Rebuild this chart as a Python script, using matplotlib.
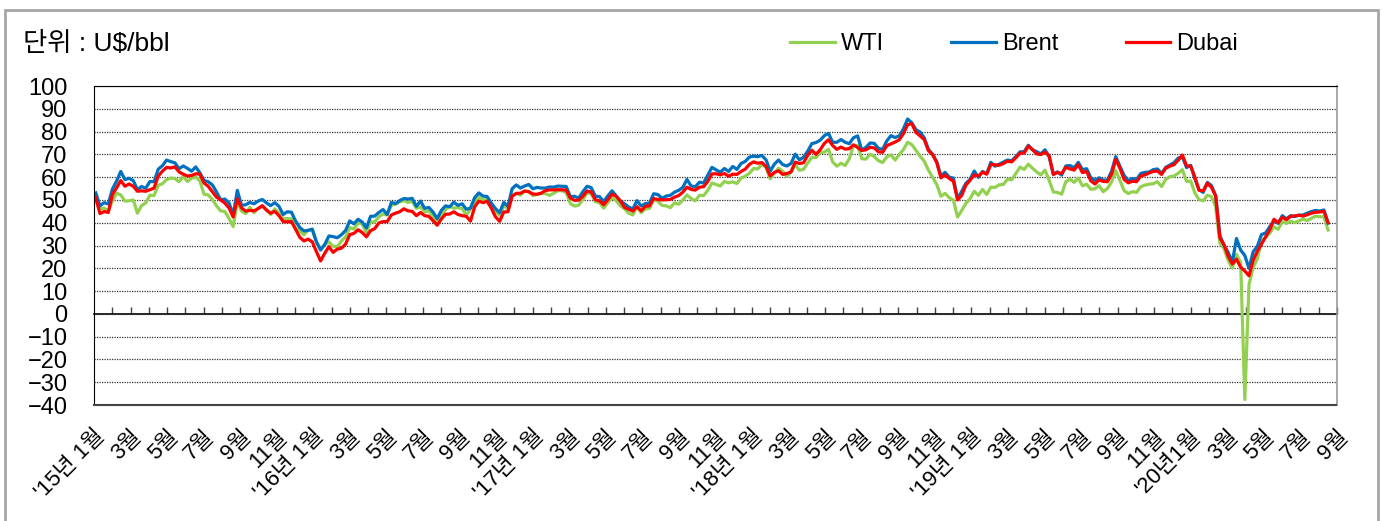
import numpy as np
import pandas as pd
import matplotlib
matplotlib.use("Agg")
import matplotlib.pyplot as plt
import matplotlib.dates as mdates
from matplotlib.patches import Rectangle

plt.rcParams['font.family'] = ['Liberation Sans', 'Noto Sans CJK KR']

# weekly (Monday) prices, U$/bbl, Jan 2015 - Sep 2020
brent = [
    53.1, 47.4, 48.8, 48.2,  54.8, 58.3, 62.5, 58.9,  59.5, 58.5, 54.5, 55.9, 55.1,
    58.1, 58.0, 63.5, 65.0,  67.5, 66.8, 66.3, 63.7,  64.9, 63.9, 62.6, 64.5, 61.9,
    58.5, 58.0, 56.6, 53.5,  50.0, 50.4, 48.7, 43.5, 54.2,  47.6, 47.9, 48.9, 48.3,
    49.5, 50.2, 48.7, 47.5,  48.8, 47.2, 43.6, 44.8, 44.6,  40.7, 37.9, 36.4, 36.6,
    # 2016
    37.2, 31.6, 28.0, 30.5,  34.2, 33.9, 33.4, 34.7, 36.6,  40.8, 39.5, 41.5, 40.3,
    37.7, 42.8, 42.9, 44.5,  45.8, 43.6, 48.9, 48.4, 49.7,  50.6, 50.4, 50.7, 47.2,
    49.5, 46.3, 46.7, 44.7,  41.8, 45.4, 47.4, 47.0, 49.0,  47.6, 48.3, 45.9, 46.4,
    51.0, 53.1, 51.7, 51.5, 48.6,  46.2, 44.4, 48.9, 47.2,  54.9, 56.6, 55.2, 56.1,
    # 2017
    56.8, 54.9, 55.5, 55.2, 55.2,  55.7, 55.6, 56.1, 56.0,  55.9, 51.4, 51.6, 50.8,
    53.6, 56.0, 55.4, 51.6,  51.5, 49.3, 51.8, 54.0, 51.8,  49.5, 48.3, 46.9, 46.0,
    49.7, 47.3, 48.4, 48.6, 52.7,  52.4, 50.7, 51.7, 52.0,  53.4, 54.2, 55.5, 59.0,
    56.1, 55.8, 57.8, 57.4, 60.9,  64.3, 63.2, 62.2, 63.8,  62.5, 64.7, 63.4, 66.0,
    # 2018
    66.9, 68.8, 69.2, 69.0, 69.5,  67.6, 62.6, 65.7, 67.5,  65.5, 64.9, 66.0, 70.1,
    67.6, 68.7, 71.4, 74.7, 75.2,  76.2, 78.2, 79.2, 75.3,  75.3, 76.5, 75.3, 74.7,
    77.3, 78.1, 71.8, 73.1, 75.0,  74.8, 72.6, 72.2, 75.9,  78.2, 77.4, 78.1, 81.2,
    85.5, 83.9, 80.8, 79.8, 77.3,  72.2, 70.1, 66.8, 60.5,  62.1, 60.0, 59.6, 50.5, 53.8,
    # 2019
    57.3, 59.0, 62.7, 59.9,  62.5, 61.5, 66.5, 64.8,  65.7, 66.6, 67.5, 67.2,
    69.0, 71.1, 71.2, 74.0, 72.0,  71.2, 70.2, 72.0, 69.0,  61.3, 62.3, 60.9, 64.9,
    65.1, 64.1, 66.5, 63.3, 63.7,  59.8, 58.6, 59.7, 58.7,  58.7, 62.6, 69.0, 64.8, 60.8,
    58.4, 59.4, 59.0, 61.6,  62.1, 62.2, 63.3, 63.6,  61.6, 64.3, 65.3, 66.4, 68.4,
    # 2020
    68.9, 64.2, 65.2, 59.3,  54.5, 53.3, 57.7, 56.3,  51.9, 34.4, 30.1, 27.0, 22.7,
    33.1, 28.0, 25.6, 20.0,  27.2, 29.6, 34.8, 35.5,  38.3, 40.8, 39.7, 43.1, 41.7,
    43.1, 42.7, 43.3, 43.4,  44.2, 44.9, 45.4, 45.1, 45.6,  39.8,
]

dubai = [
    50.9, 44.0, 44.9, 44.5,  52.4, 55.3, 58.5, 56.0,  57.0, 56.0, 53.8, 54.0, 53.8,
    54.5, 55.2, 60.5, 62.6,  64.3, 64.0, 64.5, 62.3,  61.3, 60.5, 60.7, 61.5, 61.3,
    57.4, 56.0, 53.6, 51.2,  50.0, 48.6, 46.5, 42.5, 50.5,  46.5, 45.1, 45.4, 45.2,
    46.2, 47.5, 45.5, 44.2,  45.0, 43.1, 40.5, 40.4, 40.5,  37.0, 33.6, 32.0, 32.8,
    # 2016
    31.6, 27.3, 23.2, 26.6,  29.5, 27.0, 28.4, 28.8, 30.6,  34.8, 35.3, 36.9, 35.7,
    33.8, 36.5, 37.4, 39.9,  40.5, 40.5, 43.4, 44.2, 44.8,  46.1, 45.2, 45.0, 43.1,
    44.5, 43.1, 42.8, 40.9,  38.9, 41.6, 43.7, 43.8, 44.8,  43.6, 43.1, 42.8, 40.7,
    46.9, 49.5, 48.8, 49.4, 46.4,  42.6, 40.6, 44.7, 44.8,  51.6, 52.9, 52.9, 53.9,
    # 2017
    53.6, 52.6, 52.5, 53.0, 54.1,  54.4, 54.4, 54.5, 54.5,  54.3, 50.8, 49.8, 49.9,
    51.6, 53.9, 53.5, 50.1,  49.6, 47.9, 50.1, 52.5, 51.6,  49.6, 46.7, 45.9, 45.1,
    47.0, 45.2, 47.2, 47.4, 50.6,  50.2, 50.0, 50.1, 50.2,  51.2, 51.9, 53.4, 55.6,
    54.6, 54.3, 55.6, 55.8, 58.1,  61.4, 61.5, 61.0, 61.6,  60.4, 61.3, 61.2, 62.5,
    # 2018
    63.5, 65.6, 66.7, 66.1, 66.4,  64.7, 60.5, 62.1, 62.8,  61.2, 61.6, 62.3, 66.6,
    66.0, 66.3, 69.6, 71.8, 70.0,  72.0, 74.8, 76.4, 73.9,  72.2, 73.2, 72.3, 72.5,
    74.2, 73.0, 71.7, 72.0, 73.1,  72.8, 71.1, 70.9, 73.8,  74.6, 75.4, 76.4, 79.1,
    83.0, 83.5, 79.6, 78.1, 76.5,  71.6, 69.9, 66.4, 59.7,  61.0, 59.4, 58.2, 50.0, 52.0,
    # 2019
    56.5, 58.6, 61.0, 60.5,  62.1, 61.3, 65.6, 65.4,  65.2, 66.0, 67.0, 66.7,
    68.5, 70.5, 70.6, 73.6, 72.1,  70.2, 69.9, 71.0, 69.4,  61.2, 62.0, 61.6, 64.3,
    63.6, 63.1, 65.5, 62.0, 62.5,  58.4, 57.0, 58.8, 58.1,  58.0, 61.3, 67.8, 63.9, 59.0,
    57.5, 58.2, 58.0, 60.5,  61.0, 61.8, 62.5, 62.7,  61.2, 63.9, 64.8, 65.5, 67.4,
    # 2020
    69.7, 65.0, 64.8, 60.0,  54.2, 54.0, 57.3, 55.5,  51.7, 33.4, 30.4, 25.3, 21.9,
    24.0, 20.5, 18.8, 16.7,  23.5, 27.4, 30.6, 33.8,  36.9, 41.5, 40.0, 42.4, 41.3,
    42.8, 43.0, 43.3, 42.9,  43.5, 44.2, 44.6, 44.7, 45.0,  40.0,
]

wti = [
    50.0, 46.1, 46.4, 45.2,  49.6, 52.9, 52.2, 49.5,  49.6, 50.0, 44.2, 47.5, 48.7,
    52.1, 51.9, 56.4, 57.1,  58.9, 59.6, 59.4, 58.0,  60.3, 58.1, 59.5, 60.1, 58.3,
    52.5, 52.2, 50.2, 47.4,  45.2, 44.9, 41.9, 38.3, 49.2,  45.1, 44.0, 46.7, 44.4,
    46.3, 47.1, 45.9, 43.6,  46.1, 44.2, 41.7, 41.8, 41.7,  37.7, 36.3, 34.7, 36.8,
    # 2016
    36.8, 31.4, 28.5, 30.3,  31.6, 29.7, 29.4, 31.9, 33.8,  37.9, 37.2, 39.9, 39.4,
    35.7, 40.4, 40.3, 42.6,  43.8, 43.4, 47.7, 48.1, 49.1,  49.7, 48.9, 49.4, 46.3,
    47.0, 44.8, 45.2, 42.8,  40.1, 43.1, 45.7, 47.1, 46.4,  46.6, 46.2, 43.3, 45.9,
    48.8, 51.4, 50.0, 50.5, 46.9,  44.9, 43.3, 47.5, 46.1,  51.8, 52.8, 52.1, 53.8,
    # 2017
    53.7, 51.9, 52.4, 52.8, 52.8,  52.0, 52.9, 54.1, 54.0,  53.2, 48.4, 47.3, 47.7,
    50.2, 53.1, 52.7, 49.2,  48.8, 46.4, 48.8, 51.0, 49.6,  47.4, 46.1, 44.2, 43.4,
    47.1, 44.4, 46.0, 46.3, 50.2,  49.4, 47.6, 47.4, 46.6,  48.7, 48.1, 49.9, 52.2,
    50.6, 49.6, 52.0, 51.9, 54.2,  57.4, 56.8, 56.1, 58.1,  57.5, 57.9, 57.2, 59.6,
    # 2018
    60.4, 61.7, 63.8, 63.6, 65.6,  64.2, 59.3, 61.7, 63.9,  62.6, 60.4, 62.1, 65.6,
    63.0, 63.4, 66.2, 68.6, 68.6,  70.7, 71.0, 72.2, 66.7,  64.8, 66.1, 65.1, 68.1,
    73.9, 73.9, 68.1, 67.9, 70.1,  69.0, 67.2, 66.4, 68.9,  69.8, 67.5, 69.9, 72.1,
    75.3, 74.3, 71.8, 69.2, 67.0,  63.1, 59.9, 56.8, 51.6,  52.9, 51.0, 49.9, 42.5, 45.4,
    # 2019
    48.5, 50.5, 53.8, 52.0,  54.6, 52.4, 55.6, 55.5,  56.6, 56.8, 59.1, 58.8,
    61.6, 64.4, 63.4, 65.7, 63.9,  62.3, 61.0, 63.1, 58.6,  53.5, 53.3, 52.5, 58.0,
    59.1, 57.7, 59.6, 56.2, 56.9,  54.7, 54.9, 56.2, 53.6,  55.0, 57.9, 62.9, 58.6, 54.1,
    52.8, 53.6, 53.3, 55.8,  56.5, 56.9, 57.1, 58.0,  55.9, 59.0, 60.2, 60.5, 61.7,
    # 2020
    63.3, 58.1, 58.3, 53.1,  50.1, 49.6, 52.1, 51.4,  47.0, 31.1, 28.7, 23.4, 20.1,
    26.1, 22.4, -37.6, 12.8,  20.4, 24.1, 31.8, 33.7,  35.4, 38.2, 37.1, 40.5, 39.7,
    40.6, 40.1, 40.8, 41.6,  41.0, 41.9, 42.9, 42.6, 42.6,  36.8,
]

dates = pd.date_range('2015-01-05', periods=len(brent), freq='W-MON')

x_labels = []
for yr in ['15', '16', '17', '18', '19']:
    x_labels += ["'" + yr + "년 1월", '3월', '5월', '7월', '9월', '11월']
x_labels += ["'20년1월", '3월', '5월', '7월', '9월']

W, H = 1383, 521
fig = plt.figure(figsize=(W / 100, H / 100), dpi=100)
ax = fig.add_axes([94 / W, 1 - 405 / H, (1337 - 94) / W, (405 - 86) / H])

ax.plot(dates, wti, color='#92D050', lw=2.3, label='WTI')
ax.plot(dates, brent, color='#0070C0', lw=2.3, label='Brent')
ax.plot(dates, dubai, color='#FF0000', lw=2.3, label='Dubai')

x0 = mdates.date2num(pd.Timestamp('2015-01-02'))
x1 = mdates.date2num(pd.Timestamp('2020-09-22'))
ax.set_xlim(x0, x1)
ax.set_ylim(-40, 100)

ticks = np.linspace(x0, x1, 69)
ax.set_xticks(ticks[::2])
ax.set_xticklabels(x_labels, rotation=45, ha='right', rotation_mode='anchor', fontsize=16)
ax.tick_params(axis='x', length=0, pad=15)

ax.set_yticks(np.arange(-40, 101, 10))
ax.tick_params(axis='y', length=0, pad=19, labelsize=17)
ax.grid(axis='y', color='#333333', lw=0.9, linestyle=(0, (1, 1)))
ax.set_axisbelow(True)

# zero line with monthly tick marks pointing up
sec = ax.secondary_xaxis(40 / 140)
sec.set_xticks(ticks[1:])
sec.tick_params(direction='in', length=5, width=1, color='#404040', labelbottom=False)
sec.spines['bottom'].set_color('black')
sec.spines['bottom'].set_linewidth(1.2)

ax.spines['left'].set_color('black')
ax.spines['top'].set_color('black')
ax.spines['top'].set_linewidth(0.8)
ax.spines['right'].set_color('#999999')
ax.spines['right'].set_linewidth(1.2)
ax.spines['bottom'].set_color('#444444')
ax.spines['bottom'].set_linewidth(1.5)
ax.spines['bottom'].set_linestyle((0, (1, 0.6)))

fig.text(23 / W, 1 - 44 / H, '단위 : U$/bbl', fontsize=19, va='center')

handles, labels = ax.get_legend_handles_labels()
fig.legend(handles, labels, loc='center left', bbox_to_anchor=(790 / W, 1 - 44 / H),
           ncol=3, frameon=False, fontsize=17, handlelength=1.9, handletextpad=0.25,
           columnspacing=2.85, borderpad=0, borderaxespad=0)

fig.patches.append(Rectangle((5 / W, -0.05), (1378 - 5) / W, 1 - 10 / H + 0.05,
                             transform=fig.transFigure, fill=False,
                             edgecolor='#A6A6A6', lw=2))

fig.savefig('out.png', dpi=100)
